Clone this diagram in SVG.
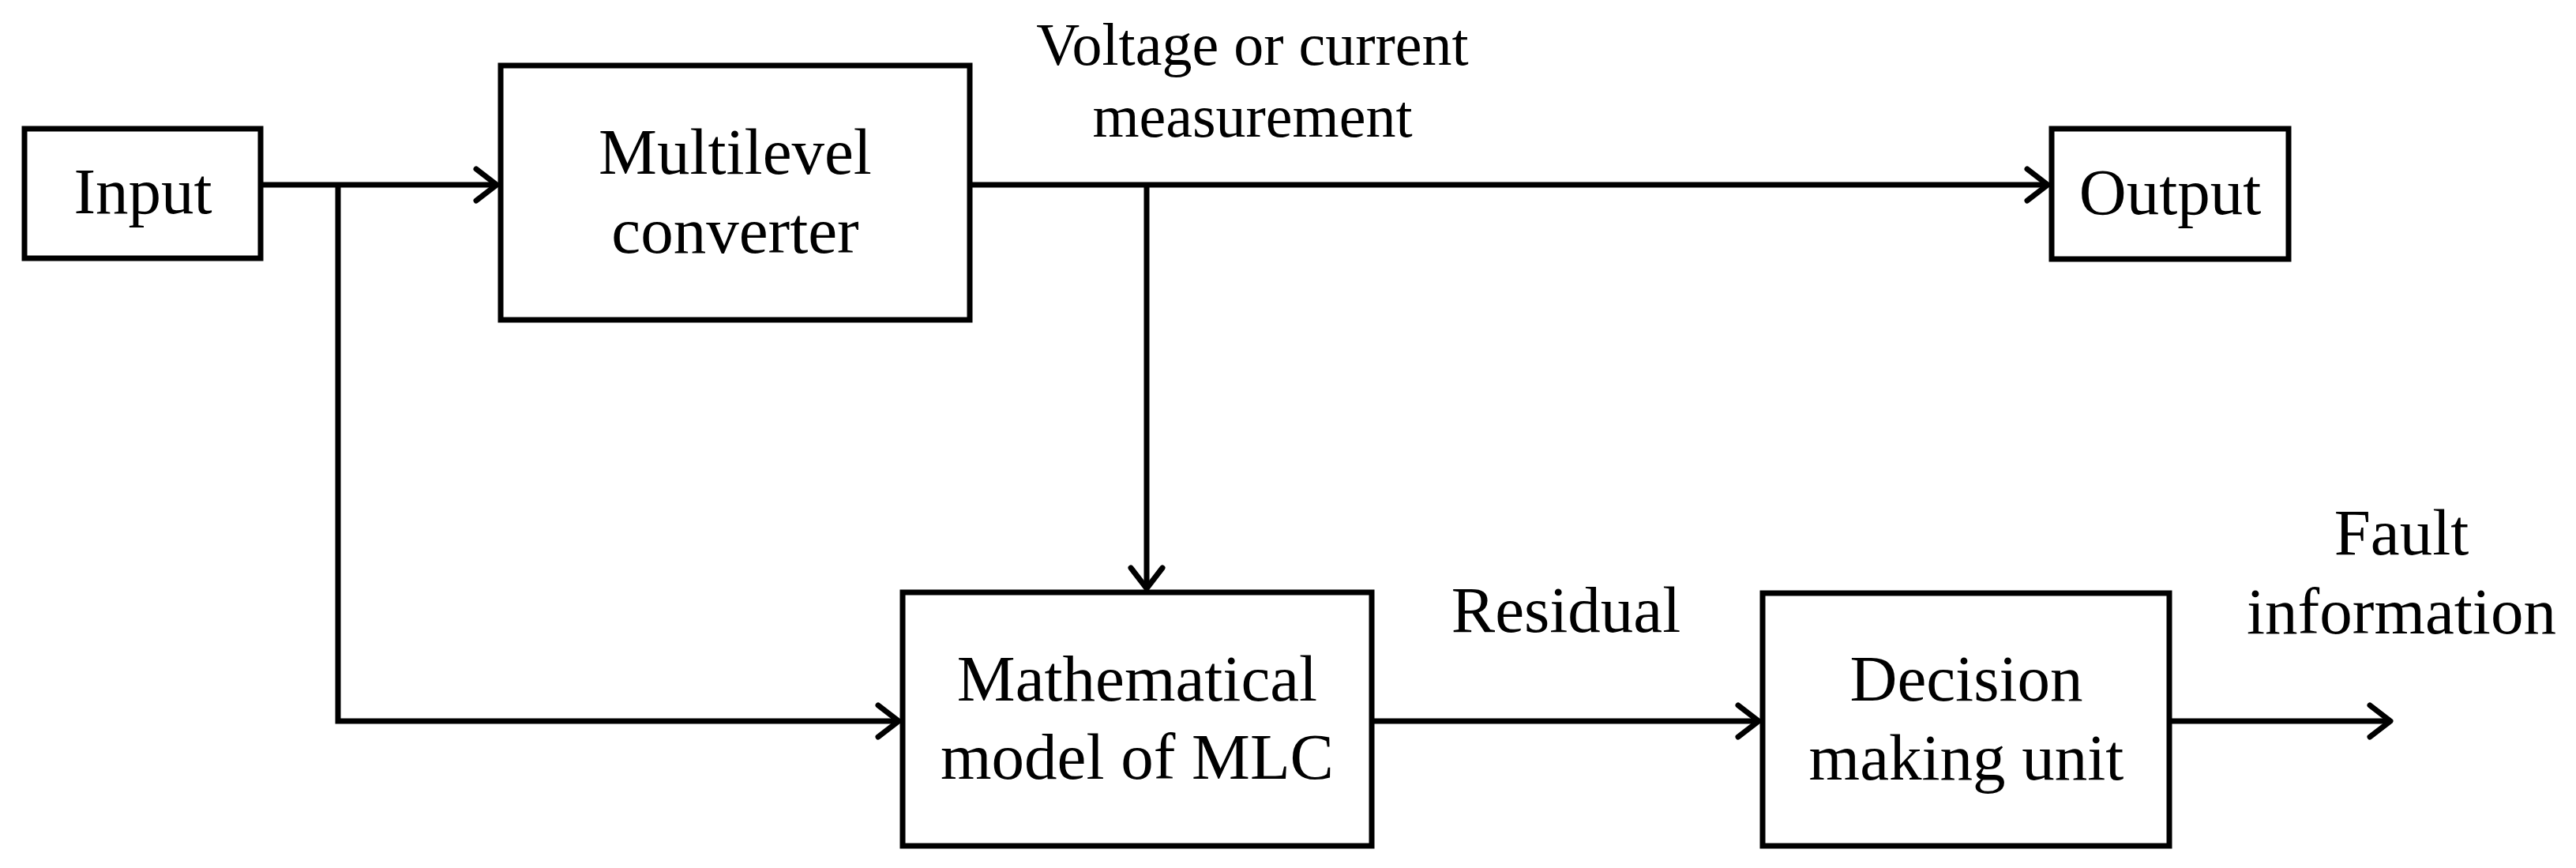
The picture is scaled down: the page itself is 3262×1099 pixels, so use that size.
<svg xmlns="http://www.w3.org/2000/svg" width="3262" height="1099" viewBox="0 0 3262 1099">
  <style>
    .box { fill: #fff; stroke: #000; stroke-width: 7; }
    .wire { fill: none; stroke: #000; stroke-width: 7; }
    .lbl { font-family: "Liberation Serif", "Times New Roman", serif; font-size: 83px; fill: #000; text-anchor: middle; }
    .sm { font-size: 76px; }
  </style>
  <defs>
    <marker id="arr" markerUnits="userSpaceOnUse" markerWidth="44" markerHeight="54" viewBox="-34 -27 44 54" refX="0" refY="0" orient="auto">
      <path d="M-26,-20 L0,0 L-26,20" fill="none" stroke="#000" stroke-width="7" stroke-linecap="round" stroke-linejoin="round"/>
    </marker>
  </defs>
  <rect width="3262" height="1099" fill="#fff"/>

  <g id="connectors">
    <line class="wire" x1="330" y1="234" x2="629" y2="234" marker-end="url(#arr)"/>
    <line class="wire" x1="1228" y1="234" x2="2593" y2="234" marker-end="url(#arr)"/>
    <line class="wire" x1="1452" y1="234" x2="1452" y2="745" marker-end="url(#arr)"/>
    <polyline class="wire" points="428,234 428,913 1138,913" marker-end="url(#arr)"/>
    <line class="wire" x1="1737" y1="913" x2="2227" y2="913" marker-end="url(#arr)"/>
    <line class="wire" x1="2747" y1="913" x2="3027" y2="913" marker-end="url(#arr)"/>
  </g>

  <g id="input">
    <rect class="box" x="31" y="163" width="299" height="164"/>
    <text class="lbl" x="181" y="270">Input</text>
  </g>

  <g id="multilevel-converter">
    <rect class="box" x="634" y="83" width="594" height="322"/>
    <text class="lbl" x="931" y="220">Multilevel</text>
    <text class="lbl" x="931" y="320">converter</text>
  </g>

  <g id="output">
    <rect class="box" x="2598" y="163" width="300" height="165"/>
    <text class="lbl" x="2748" y="271">Output</text>
  </g>

  <g id="mathematical-model">
    <rect class="box" x="1143" y="750" width="594" height="321"/>
    <text class="lbl" x="1440" y="887">Mathematical</text>
    <text class="lbl" x="1440" y="986">model of MLC</text>
  </g>

  <g id="decision-unit">
    <rect class="box" x="2232" y="751" width="515" height="320"/>
    <text class="lbl" x="2490" y="887">Decision</text>
    <text class="lbl" x="2490" y="987">making unit</text>
  </g>

  <g id="labels">
    <text class="lbl sm" x="1586" y="82">Voltage or current</text>
    <text class="lbl sm" x="1586" y="173">measurement</text>
    <text class="lbl" x="1983" y="800">Residual</text>
    <text class="lbl" x="3041" y="702">Fault</text>
    <text class="lbl" x="3041" y="802">information</text>
  </g>
</svg>
